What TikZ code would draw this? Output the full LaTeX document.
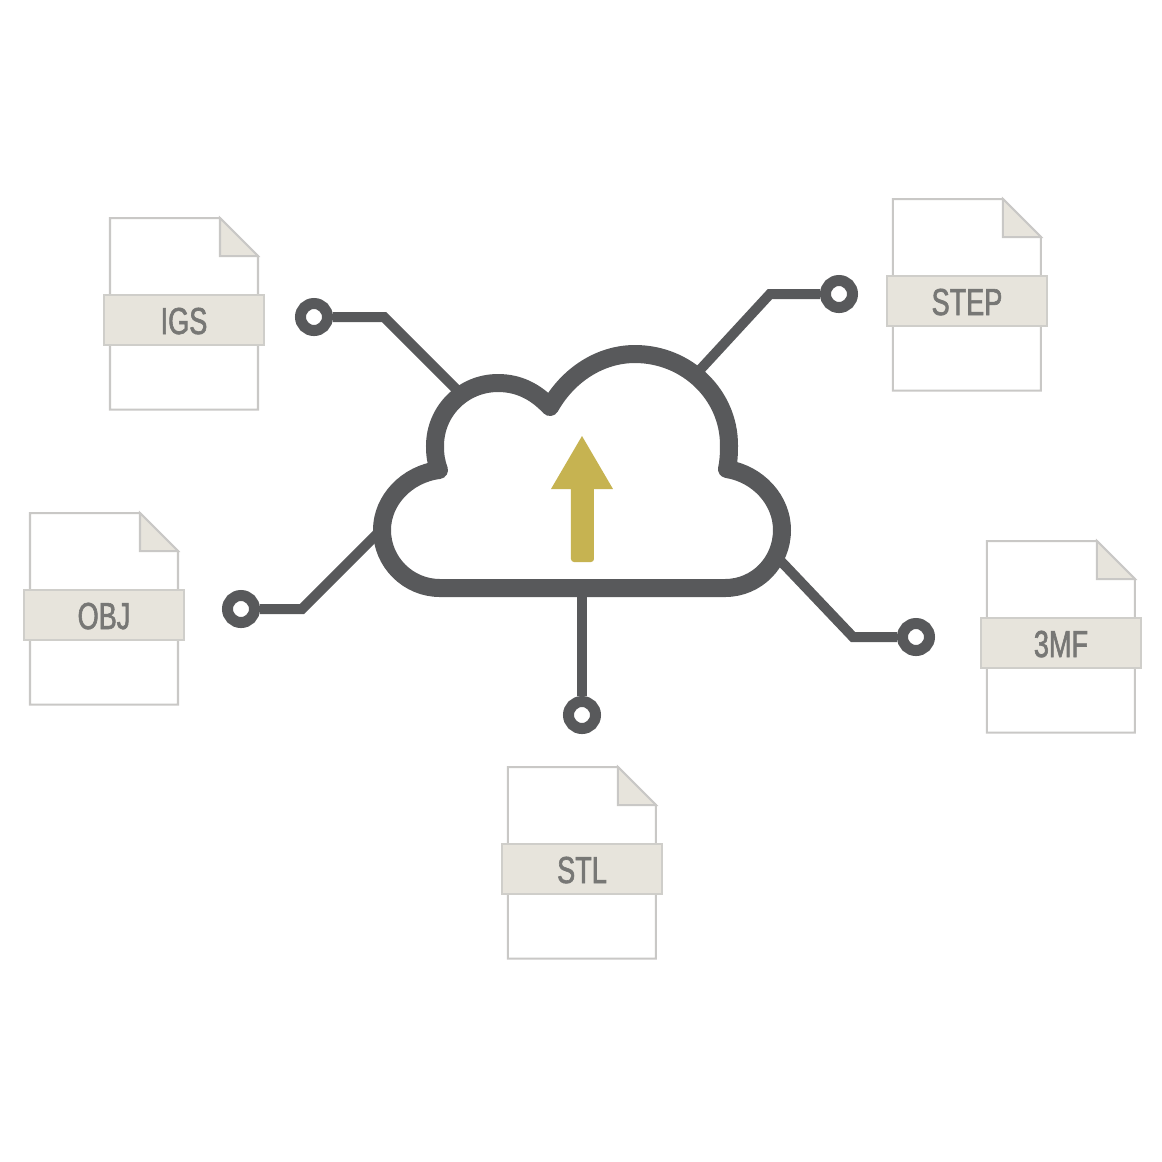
\documentclass[tikz,border=0pt]{standalone}
\usepackage{fontspec}
\newfontfamily\labelfont[FakeStretch=0.72, FakeBold=1.6]{Liberation Sans}
\definecolor{wiregray}{HTML}{58595B}
\definecolor{sheetline}{HTML}{C9C8C6}
\definecolor{bandfill}{HTML}{E7E4DC}
\definecolor{labelgray}{HTML}{777775}
\definecolor{arrowgold}{HTML}{C6B351}
\tikzset{
    wire/.style={draw=wiregray, line width=0.10cm, line join=miter},
    dot/.style={circle, draw=wiregray, line width=0.11cm, fill=white, minimum size=0.27cm, inner sep=0pt},
    sheet/.style={draw=sheetline, line width=0.02cm, fill=white, line join=miter},
    band/.style={draw=sheetline!80!bandfill, line width=0.02cm, fill=bandfill, minimum width=1.59cm, minimum height=0.5cm, inner sep=0pt, text height=0.28cm, text depth=0pt, text=labelgray, font=\labelfont\fontsize{10.7}{12}\selectfont}
}
\begin{document}
\begin{tikzpicture}[x=0.01cm, y=-0.01cm]
        \useasboundingbox (0,0) rectangle (1162,1162);
        \foreach \name/\x/\y/\txt in {igs/110/218/IGS, step/893/199/STEP, obj/30/513/OBJ, mf/987/541/3MF, stl/508/767/STL} {
            \draw[sheet] (\x,\y) -- (\x+110,\y) -- (\x+148,\y+38) -- (\x+148,\y+191.5) -- (\x,\y+191.5) -- cycle;
            \draw[sheet, fill=bandfill] (\x+110,\y) -- (\x+110,\y+38) -- (\x+148,\y+38) -- cycle;
            \node[band] (\name) at (\x+74,\y+102) {\txt};
        }
        \node[dot] (igsdot) at (314,317) {};
        \node[dot] (stepdot) at (839,294) {};
        \node[dot] (objdot) at (241,609) {};
        \node[dot] (mfdot) at (916,637) {};
        \node[dot] (stldot) at (582,715) {};
        \coordinate (igsbend) at (384,317);
        \coordinate (stepbend) at (770,294);
        \coordinate (objbend) at (302,609);
        \coordinate (mfbend) at (853,637);
        \coordinate (igsfoot) at (460,393);
        \coordinate (stepfoot) at (698,372);
        \coordinate (objfoot) at (380,531);
        \coordinate (mffoot) at (776,556);
        \coordinate (stlfoot) at (582,588);
        \draw[wire] (igsdot) -- (igsbend) -- (igsfoot);
        \draw[wire] (stepdot) -- (stepbend) -- (stepfoot);
        \draw[wire] (objdot) -- (objbend) -- (objfoot);
        \draw[wire] (mfdot) -- (mfbend) -- (mffoot);
        \draw[wire] (stldot) -- (stlfoot);
        \draw[draw=wiregray, line width=0.18cm, line join=round, fill=white] (550,407)
            .. controls (535,391) and (518,383) .. (498,383)
            .. controls (463,383) and (435,411) .. (435,446)
            .. controls (435,455) and (436,462) .. (439,470)
            .. controls (407,474) and (382,500) .. (382,530)
            .. controls (382,562) and (408,588) .. (440,588)
            -- (725,588)
            .. controls (757,588) and (782,562) .. (782,530)
            .. controls (782,500) and (758,474) .. (727,469)
            .. controls (729,460) and (729,450) .. (729,445)
            .. controls (729,395) and (687,354) .. (635,354)
            .. controls (600,354) and (568,375) .. (550,407) -- cycle;
        \fill[arrowgold] (582,436) -- (613,489) -- (594,489) [rounded corners=0.03cm] -- (594,562) -- (571,562) [sharp corners] -- (571,489) -- (551,489) -- cycle;
    \end{tikzpicture}
\end{document}
